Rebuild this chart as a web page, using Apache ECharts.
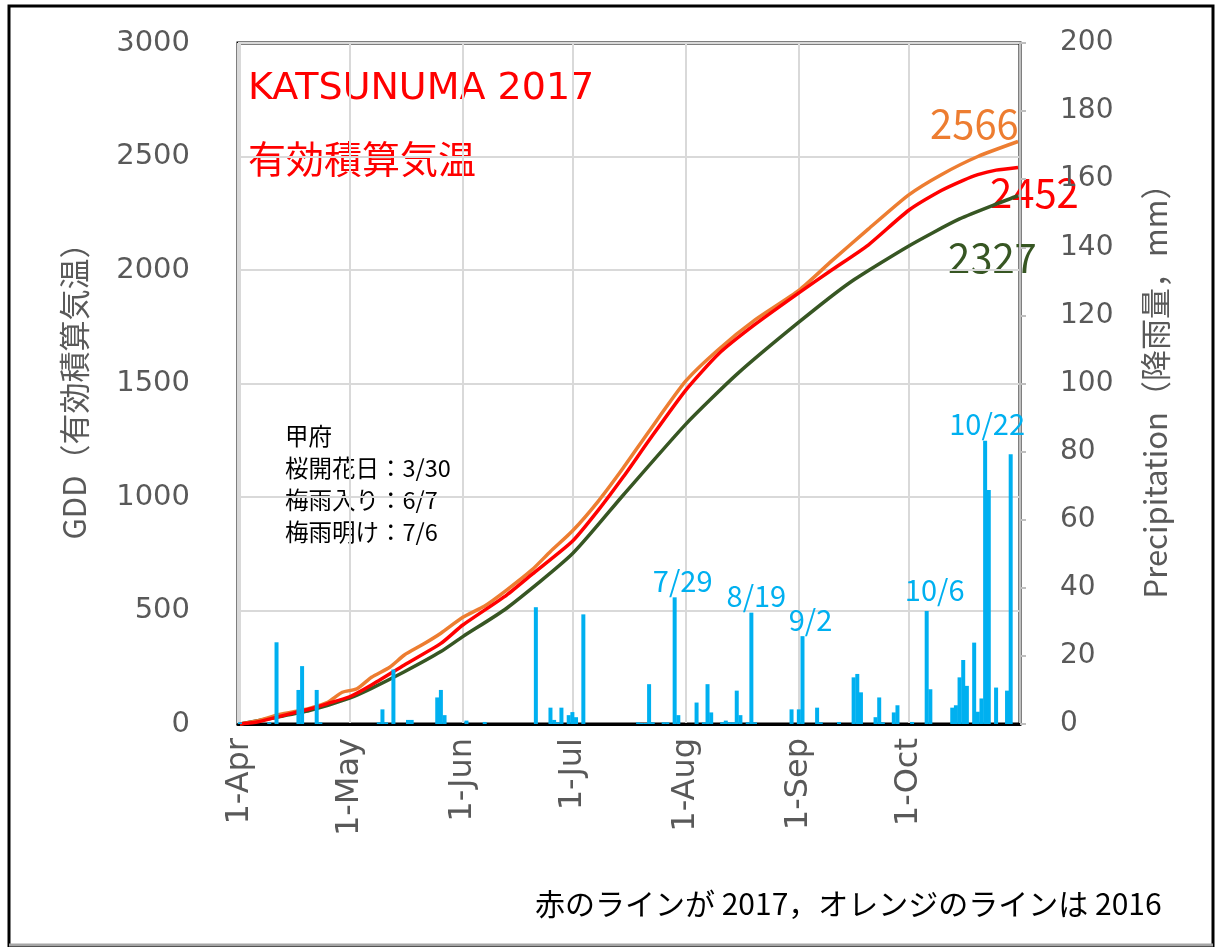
<!DOCTYPE html>
<html>
<head>
<meta charset="utf-8">
<script src="https://cdn.jsdelivr.net/npm/echarts@6/dist/echarts.min.js"></script>
<style>
html,body{margin:0;padding:0;background:#fff;}
#c{width:1217px;height:947px;}
</style>
</head>
<body>
<div id="c"></div>
<script>
// ---- data ----
const monthNames = ['Jan','Feb','Mar','Apr','May','Jun','Jul','Aug','Sep','Oct','Nov','Dec'];
const xMin = '2017-04-01';
const xMax = '2017-10-31';

// GDD 2016 (orange)
const gdd2016 = [
  ['2017-04-01',0],['2017-04-06',15],['2017-04-11',39],['2017-04-16',55],['2017-04-20',69],
  ['2017-04-25',95],['2017-04-29',140],['2017-05-03',155],['2017-05-07',206],['2017-05-12',250],
  ['2017-05-16',304],['2017-05-21',350],['2017-05-26',400],['2017-06-01',470],['2017-06-07',520],
  ['2017-06-13',590],['2017-06-20',680],['2017-06-25',760],['2017-07-01',850],['2017-07-08',980],
  ['2017-07-15',1130],['2017-07-22',1290],['2017-08-01',1510],['2017-08-10',1650],['2017-08-20',1780],
  ['2017-09-01',1910],['2017-09-10',2040],['2017-09-20',2180],['2017-10-01',2330],['2017-10-10',2420],
  ['2017-10-20',2500],['2017-10-31',2566]
];
// GDD 2017 (red)
const gdd2017 = [
  ['2017-04-01',0],['2017-04-06',10],['2017-04-11',30],['2017-04-16',50],['2017-04-20',66],
  ['2017-04-25',90],['2017-05-01',120],['2017-05-07',172],['2017-05-16',260],['2017-05-26',355],
  ['2017-06-01',436],['2017-06-13',568],['2017-06-20',660],['2017-07-01',805],['2017-07-08',940],
  ['2017-07-15',1090],['2017-07-22',1250],['2017-08-01',1470],['2017-08-10',1630],['2017-08-20',1760],
  ['2017-09-01',1899],['2017-09-10',2000],['2017-09-20',2110],['2017-10-01',2262],['2017-10-10',2350],
  ['2017-10-16',2395],['2017-10-20',2420],['2017-10-25',2440],['2017-10-31',2452]
];
// GDD normal (dark green)
const gddNormal = [
  ['2017-04-01',0],['2017-04-11',30],['2017-04-20',59],['2017-05-01',114],['2017-05-07',157],
  ['2017-05-16',230],['2017-05-26',319],['2017-06-01',385],['2017-06-13',510],['2017-07-01',750],
  ['2017-07-15',1010],['2017-08-01',1320],['2017-08-15',1540],['2017-09-01',1770],['2017-09-15',1945],
  ['2017-10-01',2105],['2017-10-15',2225],['2017-10-31',2327]
];
// daily precipitation, mm
const rainDates = ['2017-04-01','2017-04-09','2017-04-11','2017-04-17','2017-04-18','2017-04-22','2017-04-23',
  '2017-05-09','2017-05-10','2017-05-11','2017-05-13','2017-05-17','2017-05-18','2017-05-25','2017-05-26','2017-05-27',
  '2017-06-02','2017-06-07','2017-06-21','2017-06-25','2017-06-26','2017-06-27','2017-06-28','2017-06-30',
  '2017-07-01','2017-07-02','2017-07-04','2017-07-19','2017-07-20','2017-07-21','2017-07-22','2017-07-23',
  '2017-07-26','2017-07-27','2017-07-29','2017-07-30','2017-08-04','2017-08-06','2017-08-07','2017-08-08',
  '2017-08-11','2017-08-12','2017-08-13','2017-08-14','2017-08-15','2017-08-16','2017-08-18','2017-08-19',
  '2017-08-20','2017-08-30','2017-09-01','2017-09-02','2017-09-06','2017-09-07','2017-09-12','2017-09-16',
  '2017-09-17','2017-09-18','2017-09-22','2017-09-23','2017-09-24','2017-09-27','2017-09-28','2017-10-02',
  '2017-10-06','2017-10-07','2017-10-13','2017-10-14','2017-10-15','2017-10-16','2017-10-17','2017-10-19',
  '2017-10-20','2017-10-21','2017-10-22','2017-10-23','2017-10-25','2017-10-28','2017-10-29'];
const rainValues = [0.5,0.5,24,10,17,10,0.5,
  0.5,4.3,0.5,16,1.2,1.2,7.8,10,2.6,
  1,0.6,34.3,4.8,1.2,0.5,4.8,2.6,
  3.5,2,32.2,0.5,0.3,0.3,11.7,0.5,
  0.5,0.5,37.2,2.6,6.3,0.5,11.7,3.4,
  0.5,1,0.5,0.5,9.8,2.6,0.5,32.7,
  0.5,4.3,4.3,25.8,4.8,0.5,0.6,13.7,
  14.7,9.3,2,7.8,0.5,3.4,5.5,0.6,
  33.2,10.2,4.8,5.5,13.7,18.8,11.2,23.9,
  3.6,7.5,83.2,68.7,10.7,9.8,79.2];
const rainLabelDates = ['2017-07-29','2017-08-19','2017-09-02','2017-10-06','2017-10-22'];
const rainLabelTexts = ['7/29','8/19','9/2','10/6','10/22'];
const rainLabelOffsets = [[8,0],[5,0],[8,0],[8,-4],[2,0]];

const endLabels = ['2566','2452','2327'];
const titleLines = ['KATSUNUMA 2017','有効積算気温'];
const noteLines = ['甲府','桜開花日：3/30','梅雨入り：6/7','梅雨明け：7/6'];
const footer = '赤のラインが 2017，オレンジのラインは 2016';

// ---- chart ----
const GRAY = '#595959';
const AXF = 'DejaVu Sans';
const JPF = 'Noto Sans CJK JP';
const BLUE = '#00b0f0';

const rainData = rainDates.map((d,i)=>{
  const k = rainLabelDates.indexOf(d);
  const item = {value:[d, rainValues[i]]};
  if (k >= 0) {
    item.label = {show:true, position:'top', distance:2, formatter:rainLabelTexts[k],
      offset:rainLabelOffsets[k], color:BLUE, fontSize:29, fontFamily:JPF};
  }
  return item;
});

const lineCommon = {showSymbol:false, smooth:0.2};

const chart = echarts.init(document.getElementById('c'));
chart.setOption({
  animation:false,
  backgroundColor:'#fff',
  grid:{left:238, top:43, width:782, height:681, show:true, borderColor:'#000', borderWidth:3, containLabel:false},
  xAxis:{
    type:'time', min:xMin, max:xMax, splitNumber:7,
    minInterval:28*86400000, maxInterval:31*86400000,
    axisLine:{show:true, lineStyle:{color:'#000', width:3}},
    axisTick:{show:false},
    splitLine:{show:true, lineStyle:{color:'#d9d9d9', width:2}},
    axisLabel:{rotate:90, margin:14, color:GRAY, fontSize:32, fontFamily:AXF,
      formatter:function(v){const d=new Date(v); return d.getDate()+'-'+monthNames[d.getMonth()];}}
  },
  yAxis:[{
    type:'value', min:0, max:3000, interval:500,
    name:'GDD（有効積算気温）', nameLocation:'middle', nameRotate:90, nameGap:148,
    nameTextStyle:{color:GRAY, fontSize:31, fontFamily:JPF},
    axisLine:{show:false}, axisTick:{show:false},
    splitLine:{show:true, lineStyle:{color:'#d9d9d9', width:2}},
    axisLabel:{margin:48, color:GRAY, fontSize:29, fontFamily:AXF, formatter:function(v){return String(v);}}
  },{
    type:'value', min:0, max:200, interval:20, position:'right',
    name:'Precipitation（降雨量，mm）', nameLocation:'middle', nameRotate:90, nameGap:120,
    nameTextStyle:{color:GRAY, fontSize:31, fontFamily:JPF},
    axisLine:{show:true, lineStyle:{color:'#bfbfbf', width:2}},
    axisTick:{show:true, length:6, lineStyle:{color:'#bfbfbf', width:2}},
    splitLine:{show:false},
    axisLabel:{margin:40, color:GRAY, fontSize:28, fontFamily:AXF, formatter:function(v){return String(v);}}
  }],
  series:[
    Object.assign({type:'line', name:'normal', data:gddNormal, lineStyle:{color:'#375623', width:3.5}, z:3}, lineCommon),
    Object.assign({type:'line', name:'2016', data:gdd2016, lineStyle:{color:'#ed7d31', width:3.5}, z:4}, lineCommon),
    Object.assign({type:'line', name:'2017', data:gdd2017, lineStyle:{color:'#ff0000', width:3.5}, z:5}, lineCommon),
    {type:'bar', name:'rain', yAxisIndex:1, data:rainData, barWidth:4, itemStyle:{color:BLUE}, z:6}
  ],
  graphic:[
    {type:'rect', shape:{x:9, y:6, width:1204, height:940}, style:{fill:'none', stroke:'#000', lineWidth:3}, z:-10},
    {type:'line', shape:{x1:9, y1:945, x2:1213, y2:945}, style:{stroke:'#a6a6a6', lineWidth:3}, z:-9},
    {type:'text', left:248, top:70, style:{text:titleLines[0], fill:'#ff0000', font:'38px "DejaVu Sans"'}},
    {type:'text', left:248, top:140, style:{text:titleLines[1], fill:'#ff0000', font:'38px "Noto Sans CJK JP"'}},
    {type:'text', left:285, top:420, style:{text:noteLines.join('\n'), fill:'#000', font:'23.5px "Noto Sans CJK JP"', lineHeight:32}},
    {type:'text', left:930, top:104, style:{text:endLabels[0], fill:'#ed7d31', font:'40px "Noto Sans CJK JP"'}},
    {type:'text', left:990, top:173, style:{text:endLabels[1], fill:'#ff0000', font:'40px "Noto Sans CJK JP"'}},
    {type:'text', left:948, top:238, style:{text:endLabels[2], fill:'#375623', font:'40px "Noto Sans CJK JP"'}},
    {type:'text', left:535, top:889, style:{text:footer, fill:'#000', font:'30px "Noto Sans CJK JP"'}}
  ]
});
</script>
</body>
</html>
